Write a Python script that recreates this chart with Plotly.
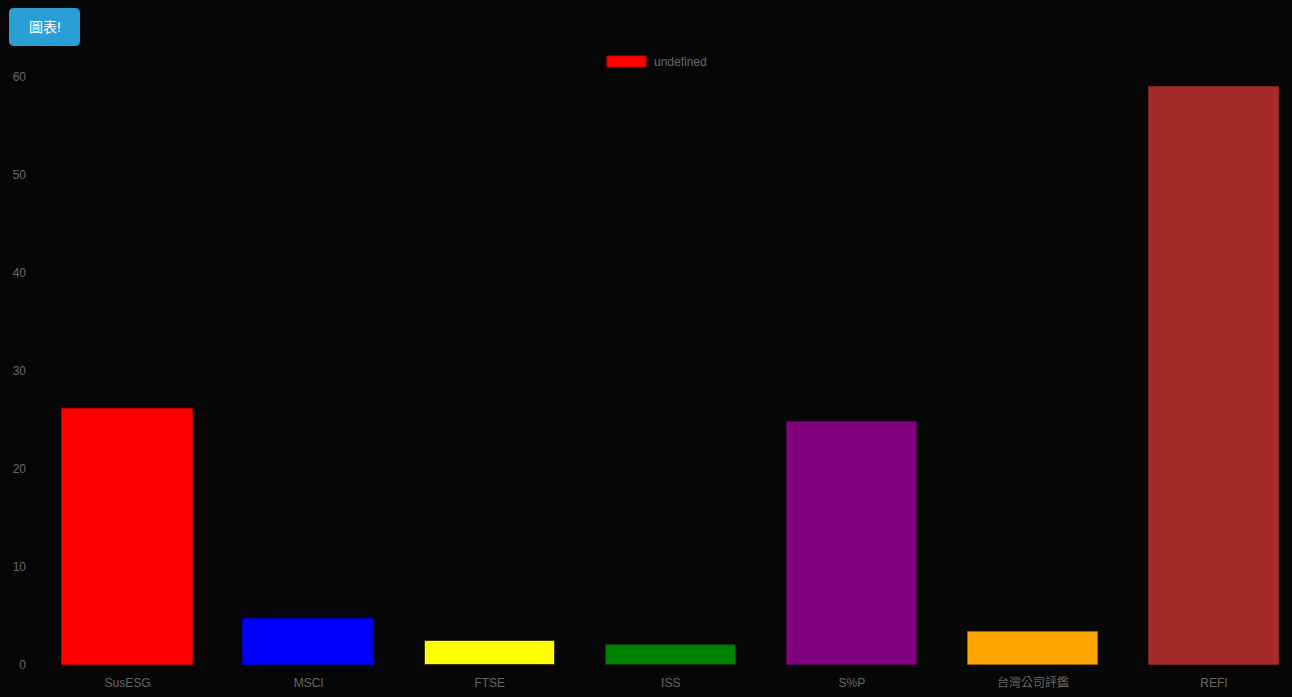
import plotly.graph_objects as go

categories = ["SusESG", "MSCI", "FTSE", "ISS", "S%P", "台灣公司評鑑", "REFI"]
values = [26.1, 4.7, 2.42, 2.04, 24.8, 3.34, 59.0]
colors = ["red", "blue", "yellow", "green", "purple", "orange", "brown"]
edge_colors = ["#c00000", "#0000c0", "#3a3a10", "#0a3a0a", "#5a005a", "#a06000", "#802020"]
legend_label = "undefined"
button_label = "圖表!"
y_ticks = [0, 10, 20, 30, 40, 50, 60]

W, H = 1292, 697
L, R, T, B = 37, 0, 77, 32
PW, PH = W - L - R, H - T - B
FONT = "Liberation Sans, Arial, Noto Sans CJK TC, sans-serif"


def px_x(px):
    return (px - L) / PW


def px_y(py):
    return (H - B - py) / PH


fig = go.Figure()
fig.add_trace(go.Bar(
    x=list(range(len(categories))),
    y=values,
    width=0.72,
    marker=dict(color=colors, line=dict(color=edge_colors, width=1)),
    showlegend=False,
    hoverinfo="y",
))

# rounded button
x0, x1, y0, y1, r = 9, 80, 8, 46, 5
path = (
    f"M {px_x(x0 + r)} {px_y(y0)} L {px_x(x1 - r)} {px_y(y0)} "
    f"Q {px_x(x1)} {px_y(y0)} {px_x(x1)} {px_y(y0 + r)} "
    f"L {px_x(x1)} {px_y(y1 - r)} Q {px_x(x1)} {px_y(y1)} {px_x(x1 - r)} {px_y(y1)} "
    f"L {px_x(x0 + r)} {px_y(y1)} Q {px_x(x0)} {px_y(y1)} {px_x(x0)} {px_y(y1 - r)} "
    f"L {px_x(x0)} {px_y(y0 + r)} Q {px_x(x0)} {px_y(y0)} {px_x(x0 + r)} {px_y(y0)} Z"
)
shapes = [
    dict(type="path", xref="paper", yref="paper", path=path,
         fillcolor="#2a9fd6", line=dict(width=0)),
    dict(type="rect", xref="paper", yref="paper",
         x0=px_x(607), x1=px_x(646), y0=px_y(67), y1=px_y(56),
         fillcolor="red", line=dict(color="#c00000", width=1)),
]
annotations = [
    dict(text=button_label, xref="paper", yref="paper", x=px_x(44.5), y=px_y(27),
         showarrow=False, xanchor="center", yanchor="middle",
         font=dict(color="white", size=14, family=FONT)),
    dict(text=legend_label, xref="paper", yref="paper", x=px_x(652), y=px_y(61.5),
         showarrow=False, xanchor="left", yanchor="middle",
         font=dict(color="#666666", size=12, family=FONT)),
]

fig.update_layout(
    width=W, height=H,
    margin=dict(l=L, r=R, t=T, b=B, pad=0),
    paper_bgcolor="#060606", plot_bgcolor="#060606",
    font=dict(family=FONT, size=12, color="#666666"),
    shapes=shapes, annotations=annotations,
    bargap=0,
    xaxis=dict(
        tickmode="array", tickvals=list(range(len(categories))), ticktext=categories,
        range=[-0.5, (W - R - L) / ((1214 - 127.5) / 6) - 0.5],
        showgrid=False, zeroline=False, showline=False, ticks="",
        ticklabelstandoff=9,
        tickfont=dict(size=12, color="#666666"),
    ),
    yaxis=dict(
        range=[0, 60], tickvals=y_ticks,
        showgrid=False, zeroline=False, showline=False, ticks="",
        ticklabelstandoff=10,
        tickfont=dict(size=12, color="#666666"),
    ),
)

fig.write_html(
    "out.html",
    config={"displayModeBar": False},
    post_script="document.body.style.margin='0';document.body.style.background='#060606';document.body.style.overflow='hidden';",
)
